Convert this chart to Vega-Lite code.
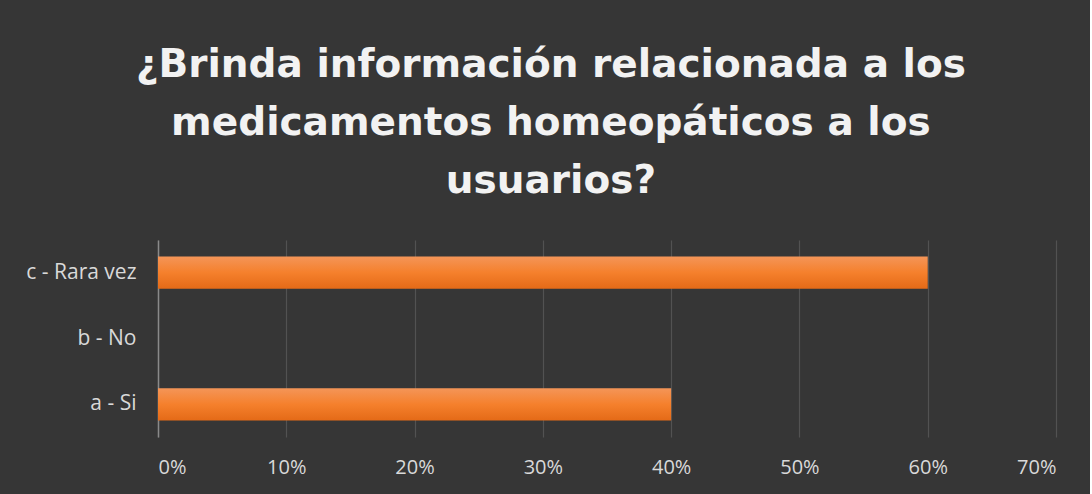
{
  "$schema": "https://vega.github.io/schema/vega-lite/v6.json",
  "width": 898,
  "height": 197,
  "padding": {"left": 25, "top": 46, "right": 34, "bottom": 18},
  "background": "#363636",
  "title": {
    "text": ["¿Brinda información relacionada a los", "medicamentos homeopáticos a los", "usuarios?"],
    "anchor": "middle",
    "frame": "bounds",
    "font": "DejaVu Sans",
    "fontSize": 39,
    "fontWeight": "bold",
    "color": "#f2f2f2",
    "lineHeight": 58,
    "offset": 39,
    "dx": 10
  },
  "data": {
    "values": [
      {"respuesta": "a - Si", "porcentaje": 0.4},
      {"respuesta": "b - No", "porcentaje": 0.0},
      {"respuesta": "c - Rara vez", "porcentaje": 0.6}
    ]
  },
  "mark": {
    "type": "bar",
    "color": {
      "gradient": "linear",
      "x1": 0, "y1": 0, "x2": 0, "y2": 1,
      "stops": [
        {"offset": 0, "color": "#F49558"},
        {"offset": 0.5, "color": "#F5802C"},
        {"offset": 1, "color": "#E46A17"}
      ]
    }
  },
  "encoding": {
    "y": {
      "field": "respuesta",
      "type": "nominal",
      "sort": ["c - Rara vez", "b - No", "a - Si"],
      "scale": {"paddingInner": 0.51, "paddingOuter": 0.25},
      "axis": {
        "title": null,
        "labelFont": "Open Sans",
        "labelFontSize": 21,
        "labelColor": "#d9d9d9",
        "labelPadding": 22,
        "ticks": false,
        "domain": true,
        "domainColor": "#8a8a8a",
        "domainWidth": 1.5,
        "grid": false
      }
    },
    "x": {
      "field": "porcentaje",
      "type": "quantitative",
      "scale": {"domain": [0, 0.7], "nice": false},
      "axis": {
        "title": null,
        "format": ".0%",
        "values": [0, 0.1, 0.2, 0.3, 0.4, 0.5, 0.6, 0.7],
        "labelFont": "Open Sans",
        "labelFontSize": 20,
        "labelColor": "#d9d9d9",
        "labelPadding": 20,
        "ticks": false,
        "domain": false,
        "grid": true,
        "gridColor": "#525252",
        "gridWidth": 1.2
      }
    }
  },
  "config": {
    "view": {"stroke": null}
  }
}
